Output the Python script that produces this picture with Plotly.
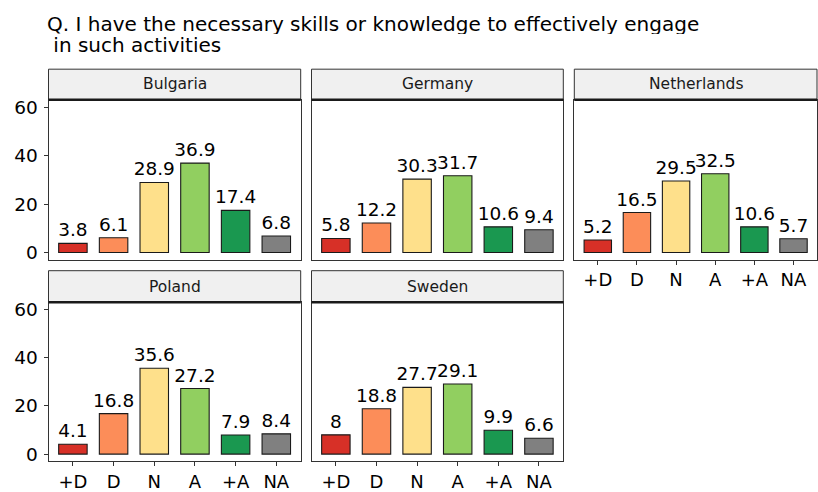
import plotly.graph_objects as go

W, H = 818, 492

countries = ["Bulgaria", "Germany", "Netherlands", "Poland", "Sweden"]
categories = ["+D", "D", "N", "A", "+A", "NA"]
bulgaria = [3.8, 6.1, 28.9, 36.9, 17.4, 6.8]
germany = [5.8, 12.2, 30.3, 31.7, 10.6, 9.4]
netherlands = [5.2, 16.5, 29.5, 32.5, 10.6, 5.7]
poland = [4.1, 16.8, 35.6, 27.2, 7.9, 8.4]
sweden = [8, 18.8, 27.7, 29.1, 9.9, 6.6]
y_ticks = [0, 20, 40, 60]
title_lines = ["Q. I have the necessary skills or knowledge to effectively engage",
               "\u00a0in such activities"]

series = [bulgaria, germany, netherlands, poland, sweden]
colors = ["#d73027", "#fc8d59", "#fee08b", "#91cf60", "#1a9850", "#808080"]

FONT = "DejaVu Sans"

def px(x):
    return x / W

def py(y):
    return 1 - y / H

col_px = [(48.5, 300.7), (311.5, 563.3), (574.3, 817.0)]
row_px = [(98, 260), (303, 464)]
strip_px = [(67, 98), (271, 303)]
positions = [(0, 0), (0, 1), (0, 2), (1, 0), (1, 1)]
xlabels_on = [False, False, True, True, True]

fig = go.Figure()
layout = dict(
    width=W, height=H, autosize=False,
    margin=dict(l=0, r=0, t=0, b=0),
    paper_bgcolor="white", plot_bgcolor="white",
    showlegend=False,
    font=dict(family=FONT, color="black"),
)
shapes = []
annotations = []

for i, (country, vals) in enumerate(zip(countries, series)):
    r, c = positions[i]
    n = i + 1
    xa = "x" if n == 1 else f"x{n}"
    ya = "y" if n == 1 else f"y{n}"
    fig.add_trace(go.Bar(
        x=categories, y=vals, xaxis=xa, yaxis=ya,
        width=0.7,
        marker=dict(color=colors, line=dict(color="#1a1a1a", width=1.1)),
        text=[f"{v:g}" for v in vals],
        textposition="outside",
        constraintext="none",
        cliponaxis=False,
        textfont=dict(family=FONT, size=18.5, color="black"),
        hoverinfo="skip",
    ))
    x0, x1 = col_px[c]
    y0, y1 = row_px[r]
    layout["xaxis" if n == 1 else f"xaxis{n}"] = dict(
        domain=[px(x0), px(x1)], anchor=ya,
        type="category", categoryorder="array", categoryarray=categories,
        range=[-0.6, 5.6],
        showline=True, mirror=True, linecolor="#333333", linewidth=1,
        showgrid=False, zeroline=False,
        ticks="outside" if xlabels_on[i] else "", ticklen=4, tickcolor="#333333",
        showticklabels=xlabels_on[i],
        tickfont=dict(family=FONT, size=18, color="black"),
        fixedrange=True,
    )
    layout["yaxis" if n == 1 else f"yaxis{n}"] = dict(
        domain=[py(y1), py(y0)], anchor=xa,
        range=[-3, 63],
        tickvals=y_ticks,
        showline=True, mirror=True, linecolor="#333333", linewidth=1,
        showgrid=False, zeroline=False,
        ticks="outside" if c == 0 else "", ticklen=4, tickcolor="#333333",
        showticklabels=(c == 0),
        ticklabelstandoff=2,
        tickfont=dict(family=FONT, size=18.5, color="black"),
        fixedrange=True,
    )
    s0, s1 = strip_px[r]
    shapes.append(dict(type="rect", xref="paper", yref="paper",
                       x0=px(x0), x1=px(x1), y0=py(s1), y1=py(s0),
                       fillcolor="#f0f0f0", line=dict(color="#333333", width=1),
                       layer="below"))
    shapes.append(dict(type="line", xref="paper", yref="paper",
                       x0=px(x0), x1=px(x1), y0=py(s1), y1=py(s1),
                       line=dict(color="#1a1a1a", width=2.5)))
    annotations.append(dict(text=country, xref="paper", yref="paper",
                            x=px((x0 + x1) / 2), y=py((s0 + s1) / 2),
                            xanchor="center", yanchor="middle", showarrow=False,
                            font=dict(family=FONT, size=15.5, color="#1a1a1a")))

annotations.append(dict(text=title_lines[0], xref="paper", yref="paper",
                        x=px(46), y=py(20.5), xanchor="left", yanchor="middle",
                        height=21, valign="middle", borderpad=0,
                        showarrow=False, font=dict(family=FONT, size=20, color="black")))
annotations.append(dict(text=title_lines[1], xref="paper", yref="paper",
                        x=px(46), y=py(42), xanchor="left", yanchor="middle",
                        height=21, valign="middle", borderpad=0,
                        showarrow=False, font=dict(family=FONT, size=20, color="black")))

layout["shapes"] = shapes
layout["annotations"] = annotations
fig.update_layout(**layout)
fig.write_html("out.html",
               config={"displayModeBar": False},
               post_script="document.body.style.margin='0';document.body.style.padding='0';document.body.style.overflow='hidden';")
